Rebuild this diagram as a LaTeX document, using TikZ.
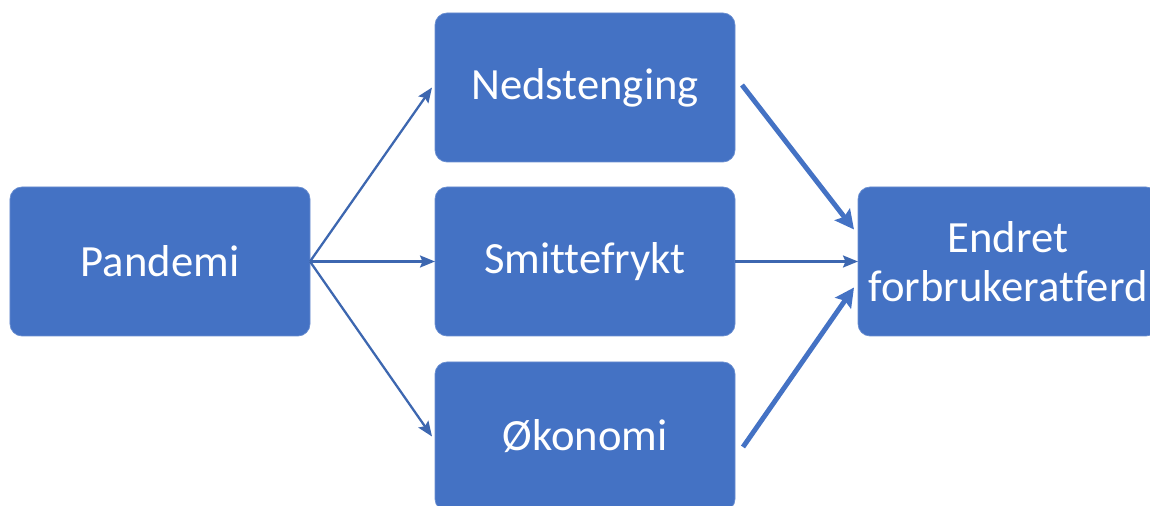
\documentclass[tikz,border=0pt]{standalone}
\usepackage{fontspec}
\setmainfont{Carlito}[Ligatures={NoCommon,NoContextual},RawFeature={-liga;-clig;-calt}]
\usetikzlibrary{arrows.meta}
\definecolor{boxblue}{HTML}{4472C4}
\tikzset{
    box/.style = {fill=boxblue, draw=boxblue!80!white, rounded corners=0.24cm, minimum width=6cm, minimum height=2.98cm,
        inner sep=0pt, outer sep=0pt, text=white, align=center, font=\fontsize{25.4}{28}\selectfont},
    thinarrow/.style = {draw=boxblue!90!black, line width=1.3pt, -{Stealth[length=0.3cm, width=0.24cm, inset=0.05cm]}},
    thickarrow/.style = {draw=boxblue, line width=2.8pt, -{Stealth[length=0.38cm, width=0.38cm, inset=0.06cm]}}
}
\begin{document}
\begin{tikzpicture}
    \useasboundingbox (0,0) rectangle (23,10.1);
    \clip (0,0) rectangle (23,10.1);
    \node[box] (pandemi) at (3.2,4.87) {Pandemi};
    \node[box] (nedstenging) at (11.7,8.35) {Nedstenging};
    \node[box] (smittefrykt) at (11.7,4.87) {Smittefrykt};
    \node[box] (okonomi) at (11.7,1.37) {Økonomi};
    \node[box] (endret) at (20.16,4.87) {Endret\\forbrukeratferd};
    \draw[thinarrow] (pandemi.east) -- ([xshift=-0.06cm]nedstenging.west);
    \draw[thinarrow] (pandemi.east) -- (smittefrykt.west);
    \draw[thinarrow] (pandemi.east) -- ([xshift=-0.06cm]okonomi.west);
    \draw[thickarrow] ([shift={(0.14,0.05)}]nedstenging.east) -- ([shift={(-0.08,0.64)}]endret.west);
    \draw[thinarrow] (smittefrykt.east) -- (endret.west);
    \draw[thickarrow] ([shift={(0.16,-0.21)}]okonomi.east) -- ([shift={(-0.08,-0.52)}]endret.west);
\end{tikzpicture}
\end{document}
